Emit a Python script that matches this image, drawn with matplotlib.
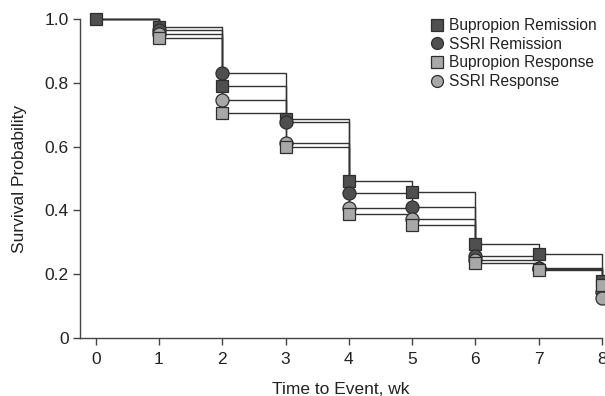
import matplotlib
matplotlib.use("Agg")
import matplotlib.pyplot as plt
from matplotlib.lines import Line2D

plt.rcParams['font.family'] = ['Liberation Sans', 'DejaVu Sans']

weeks = [0, 1, 2, 3, 4, 5, 6, 7, 8]
bup_remission = [1.0, 0.975, 0.790, 0.685, 0.492, 0.457, 0.294, 0.264, 0.180]
ssri_remission = [1.0, 0.966, 0.832, 0.676, 0.455, 0.412, 0.258, 0.218, 0.145]
ssri_response = [1.0, 0.952, 0.745, 0.612, 0.408, 0.374, 0.244, 0.216, 0.124]
bup_response = [1.0, 0.940, 0.706, 0.600, 0.390, 0.355, 0.234, 0.212, 0.165]

labels = ["Bupropion Remission", "SSRI Remission", "Bupropion Response", "SSRI Response"]
xticks = [0, 1, 2, 3, 4, 5, 6, 7, 8]
yticks = [0, 0.2, 0.4, 0.6, 0.8, 1.0]
yticklabels = ["0", "0.2", "0.4", "0.6", "0.8", "1.0"]

dark = '#4f4f4f'
light = '#a8a8a8'
edge = '#2e2e2e'
linec = '#333333'
sq_ms = 8.8
ci_ms = 9.4

# (values, marker, fill, size, first index with a marker)
series = [
    (bup_remission, 's', dark, sq_ms, 0),
    (ssri_remission, 'o', dark, ci_ms, 1),
    (ssri_response, 'o', light, ci_ms, 1),
    (bup_response, 's', light, sq_ms, 1),
]

fig = plt.figure(figsize=(6.05, 3.96), dpi=100)
ax = fig.add_axes([80/605, (396-338)/396, (602-80)/605, (338-19)/396])

for vals, m, c, ms, i0 in series:
    ax.plot(weeks, vals, drawstyle='steps-post', color=linec, lw=1.0, zorder=2, clip_on=False)
for vals, m, c, ms, i0 in series:
    ax.plot(weeks[i0:], vals[i0:], ls='none', marker=m, ms=ms, mfc=c, mec=edge, mew=0.9,
            zorder=3, clip_on=False)

ax.set_xlim(-0.248, 8)
ax.set_ylim(0, 1.0)
ax.set_xticks(xticks)
ax.set_yticks(yticks)
ax.set_yticklabels(yticklabels)
for s in ['top', 'right']:
    ax.spines[s].set_visible(False)
for s in ['left', 'bottom']:
    ax.spines[s].set_color('#444444')
    ax.spines[s].set_linewidth(1.0)
ax.tick_params(axis='both', direction='out', length=5, width=1.0, color='#444444',
               labelsize=12.5, labelcolor='#222222')
ax.tick_params(axis='x', pad=5)
ax.tick_params(axis='y', pad=3)
ax.set_xlabel("Time to Event, wk", fontsize=12.5, color='#222222', labelpad=11)
ax.set_ylabel("Survival Probability", fontsize=12.5, color='#222222', labelpad=13)

handles = [
    Line2D([], [], ls='none', marker='s', ms=8, mfc=dark, mec=edge, mew=0.9),
    Line2D([], [], ls='none', marker='o', ms=8.6, mfc=dark, mec=edge, mew=0.9),
    Line2D([], [], ls='none', marker='s', ms=8, mfc=light, mec=edge, mew=0.9),
    Line2D([], [], ls='none', marker='o', ms=8.6, mfc=light, mec=edge, mew=0.9),
]
leg = fig.legend(handles, labels, loc='upper left', bbox_to_anchor=(432/605, 1 - 18/396),
                 frameon=False, fontsize=11.2, handlelength=0.6, handletextpad=0.5,
                 labelspacing=0.24, borderpad=0, borderaxespad=0)
for t in leg.get_texts():
    t.set_color('#222222')

fig.savefig("out.png", dpi=100)
